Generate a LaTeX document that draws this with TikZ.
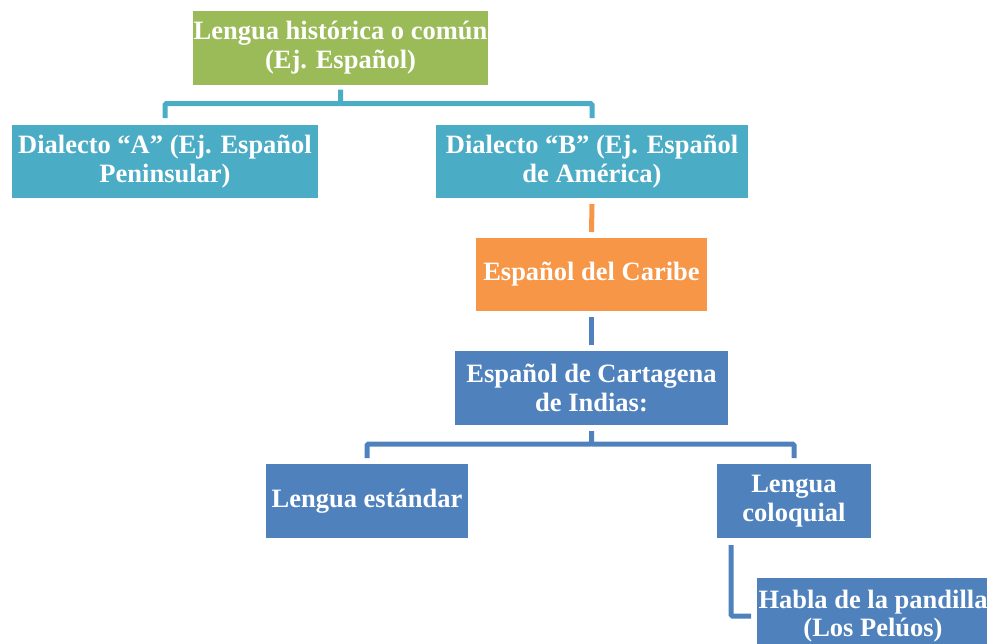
\documentclass[tikz,border=0pt]{standalone}
\usepackage{fontspec}
\setmainfont{Liberation Serif}
\usetikzlibrary{positioning}
\definecolor{hgreen}{HTML}{9BBB59}
\definecolor{hteal}{HTML}{4BACC6}
\definecolor{horange}{HTML}{F79646}
\definecolor{hblue}{HTML}{4F81BD}
\tikzset{%
box/.style={
    rectangle, fill=#1,
    text=white, font=\fontsize{26.5}{28.5}\selectfont\bfseries,
    align=center,
    inner sep=0pt, outer sep=0pt,
    minimum height=74pt
  },
  box/.default=hblue,
  link/.style={draw=#1, line width=5pt, rounded corners=1.5pt},
  link/.default=hblue
}
\begin{document}
\begin{tikzpicture}[x=1pt,y=-1pt]
\useasboundingbox (0,0) rectangle (987,643);
\clip (0,0) rectangle (987,643);

\node[box=hgreen, minimum width=295pt] (lengua) at (340.5,47.5)
  {Lengua histórica o común\\(Ej. Español)};
\node[box=hteal, minimum width=306pt, minimum height=73pt] (dialA) at (165,161.5)
  {Dialecto “A” (Ej. Español\\Peninsular)};
\node[box=hteal, minimum width=312pt, minimum height=73pt] (dialB) at (592,161.5)
  {Dialecto “B” (Ej. Español\\de América)};
\node[box=horange, minimum width=231pt, minimum height=73pt] (caribe) at (591.5,274.5)
  {Español del Caribe};
\node[box, minimum width=273pt] (cartagena) at (591.5,388)
  {Español de Cartagena\\de Indias:};
\node[box, minimum width=202pt] (estandar) at (367,501) {Lengua estándar};
\node[box, minimum width=154pt] (coloquial) at (794,501) {Lengua\\coloquial};
\node[box, minimum width=232pt, minimum height=76pt] (habla) at (873,616)
  {Habla de la pandilla\\(Los Pelúos)};

\draw [link=hteal] ([yshift=-5pt]lengua.south) -- ([yshift=-19pt]lengua.south) coordinate (fork1)
  -| ([yshift=7pt]dialA.north);
\draw [link=hteal] (fork1) -| ([yshift=7pt]dialB.north);
\draw [link=horange] ([yshift=-6pt]dialB.south) -- ([yshift=6pt]caribe.north);
\draw [link] ([yshift=-6pt]caribe.south) -- ([yshift=6pt]cartagena.north);
\draw [link] ([yshift=-6pt]cartagena.south) -- ([yshift=-19pt]cartagena.south) coordinate (fork2)
  -| ([yshift=6pt]estandar.north);
\draw [link] (fork2) -| ([yshift=6pt]coloquial.north);
\draw [link] ([xshift=14pt,yshift=-7pt]coloquial.south west) |- ([xshift=-6pt]habla.west);
\end{tikzpicture}
\end{document}
